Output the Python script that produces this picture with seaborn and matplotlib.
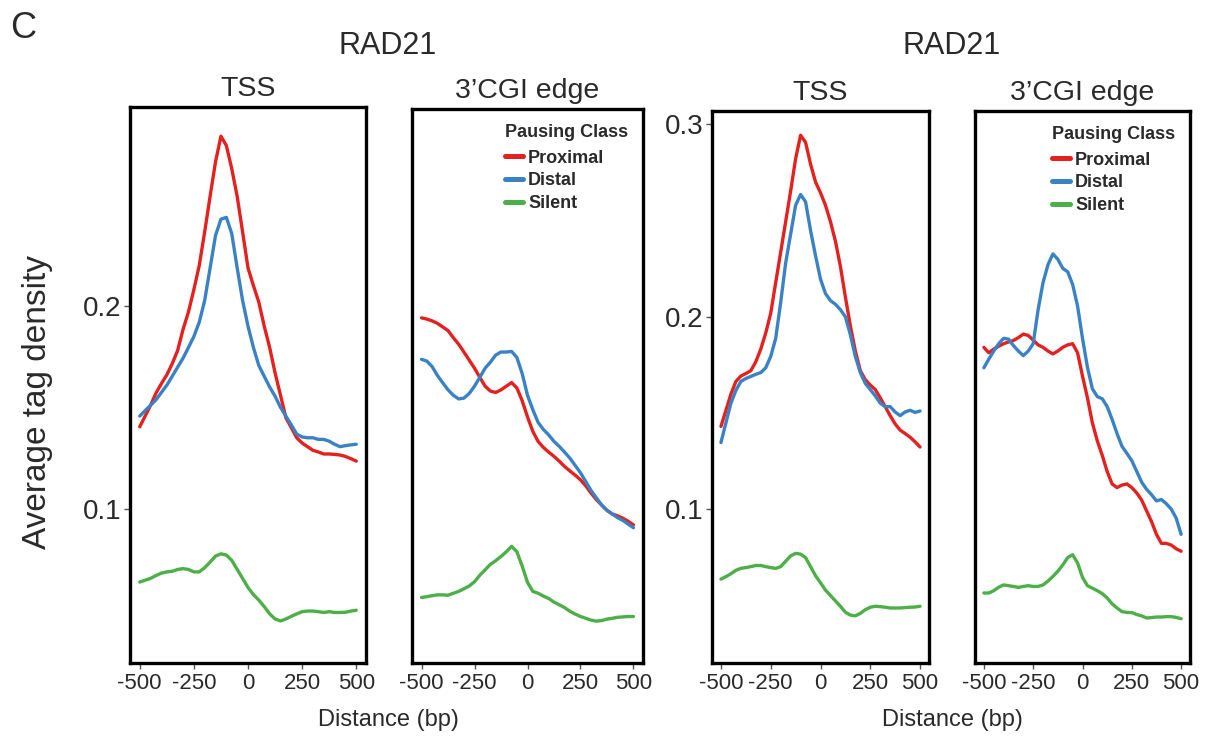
import matplotlib
matplotlib.use("Agg")
import matplotlib.pyplot as plt
from matplotlib.lines import Line2D
import numpy as np
import pandas as pd
import seaborn as sns

# ---------------- data ----------------
distance = list(range(-500, 501, 25))
classes = ["Proximal", "Distal", "Silent"]
colors = ["#E3211F", "#3A82C4", "#4CAF48"]
xtick_values = [-500, -250, 0, 250, 500]
xtick_labels = ["-500", "-250", "0", "250", "500"]
ytick_left = [0.1, 0.2]
ytick_right = [0.1, 0.2, 0.3]

# left pair, TSS
tss1_proximal = [0.1404, 0.1457, 0.151, 0.157, 0.1617, 0.166, 0.1715, 0.178, 0.1884, 0.197,
                 0.208, 0.220, 0.2365, 0.254, 0.271, 0.2836, 0.279, 0.2676, 0.254, 0.2365,
                 0.2187, 0.21, 0.2018, 0.190, 0.1795, 0.167, 0.156, 0.1448, 0.140, 0.135,
                 0.1324, 0.1306, 0.1288, 0.128, 0.127, 0.127, 0.1268, 0.1265, 0.1258, 0.1247, 0.1235]
tss1_distal = [0.1457, 0.1484, 0.151, 0.1537, 0.1573, 0.1609, 0.1653, 0.1698, 0.1742, 0.1795,
               0.1849, 0.192, 0.2027, 0.2187, 0.2347, 0.2427, 0.2436, 0.2356, 0.2187, 0.2027,
               0.190, 0.1795, 0.1706, 0.1653, 0.160, 0.1555, 0.150, 0.1457, 0.1413, 0.1368,
               0.1354, 0.135, 0.135, 0.1342, 0.1342, 0.1333, 0.1318, 0.1306, 0.1311, 0.1315, 0.1318]
tss1_silent = [0.0639, 0.0648, 0.0657, 0.0671, 0.0683, 0.0689, 0.0692, 0.0701, 0.0705, 0.0701,
               0.0689, 0.0689, 0.071, 0.0737, 0.0767, 0.0778, 0.0772, 0.0746, 0.0701, 0.0657,
               0.0612, 0.0577, 0.055, 0.0518, 0.0482, 0.0457, 0.0447, 0.0457, 0.047, 0.0482,
               0.0493, 0.0496, 0.0496, 0.0493, 0.0489, 0.0493, 0.0489, 0.0489, 0.049, 0.0496, 0.050]

# left pair, 3'CGI edge
cgi1_proximal = [0.1947, 0.1941, 0.1932, 0.192, 0.1902, 0.1884, 0.1849, 0.1817, 0.1778, 0.1738,
                 0.1698, 0.1653, 0.1609, 0.1585, 0.1578, 0.1591, 0.1609, 0.1627, 0.160, 0.1537,
                 0.1457, 0.1386, 0.1336, 0.1306, 0.1283, 0.1262, 0.1238, 0.1212, 0.119, 0.1169,
                 0.1146, 0.1116, 0.108, 0.1048, 0.1021, 0.0995, 0.0977, 0.0968, 0.0956, 0.0941, 0.0923]
cgi1_distal = [0.1742, 0.1733, 0.1706, 0.1662, 0.1626, 0.1591, 0.1564, 0.1546, 0.155, 0.1573,
               0.1609, 0.1653, 0.1698, 0.1728, 0.1763, 0.1778, 0.1778, 0.1781, 0.1751, 0.1671,
               0.1564, 0.1493, 0.143, 0.1395, 0.1368, 0.1336, 0.1311, 0.1283, 0.1253, 0.1217,
               0.1181, 0.1137, 0.1093, 0.1057, 0.1021, 0.0995, 0.0977, 0.0959, 0.0945, 0.0927, 0.0909]
cgi1_silent = [0.0564, 0.0568, 0.0573, 0.0577, 0.0577, 0.0575, 0.0585, 0.0594, 0.0607, 0.0621,
               0.0642, 0.0674, 0.0701, 0.0728, 0.0746, 0.0767, 0.079, 0.0817, 0.079, 0.0719,
               0.0639, 0.0594, 0.0585, 0.0571, 0.0559, 0.0541, 0.0528, 0.0514, 0.0496, 0.0482,
               0.047, 0.0461, 0.0452, 0.0447, 0.045, 0.0457, 0.0461, 0.0466, 0.0468, 0.047, 0.047]

# right pair, TSS
tss2_proximal = [0.143, 0.1514, 0.1598, 0.1664, 0.1692, 0.1705, 0.172, 0.1766, 0.1832, 0.1916,
                 0.2019, 0.2178, 0.2336, 0.2495, 0.2654, 0.2822, 0.2944, 0.2907, 0.2794, 0.2701,
                 0.2645, 0.258, 0.2495, 0.2393, 0.2262, 0.2103, 0.1953, 0.1822, 0.172, 0.1673,
                 0.1645, 0.1622, 0.1579, 0.1533, 0.1486, 0.1443, 0.1411, 0.1393, 0.1374, 0.135, 0.1323]
tss2_distal = [0.1346, 0.1449, 0.1551, 0.1617, 0.1664, 0.1679, 0.169, 0.1701, 0.171, 0.1735,
               0.1794, 0.1888, 0.2075, 0.228, 0.243, 0.258, 0.2636, 0.2598, 0.2449, 0.2318,
               0.2196, 0.2121, 0.2084, 0.2065, 0.2037, 0.200, 0.1907, 0.1794, 0.171, 0.1654,
               0.1622, 0.1589, 0.1551, 0.1533, 0.1533, 0.1505, 0.1486, 0.1505, 0.1514, 0.1503, 0.151]
tss2_silent = [0.0636, 0.0649, 0.0664, 0.0682, 0.0692, 0.0696, 0.0701, 0.0707, 0.0707, 0.0701,
               0.0696, 0.0692, 0.0701, 0.0729, 0.0757, 0.077, 0.0766, 0.0748, 0.0701, 0.0654,
               0.0617, 0.0579, 0.0551, 0.0523, 0.0495, 0.0464, 0.0449, 0.0445, 0.0458, 0.0477,
               0.049, 0.0495, 0.0493, 0.049, 0.0486, 0.0486, 0.0486, 0.0488, 0.049, 0.0491, 0.0495]

# right pair, 3'CGI edge
cgi2_proximal = [0.1841, 0.1813, 0.1832, 0.1847, 0.186, 0.1869, 0.1877, 0.1892, 0.191, 0.1903,
                 0.1879, 0.1854, 0.1841, 0.1822, 0.1807, 0.1822, 0.1841, 0.1854, 0.186, 0.1813,
                 0.1692, 0.1579, 0.1449, 0.1355, 0.128, 0.1196, 0.1131, 0.1112, 0.1125, 0.1131,
                 0.1112, 0.1084, 0.1047, 0.0991, 0.0935, 0.0869, 0.0822, 0.0822, 0.0813, 0.0794, 0.0781]
cgi2_distal = [0.1735, 0.178, 0.1822, 0.186, 0.1888, 0.1884, 0.185, 0.1822, 0.1798, 0.1822,
               0.186, 0.2037, 0.2178, 0.2271, 0.2327, 0.2299, 0.2252, 0.2234, 0.2168, 0.2056,
               0.1888, 0.1738, 0.1626, 0.1585, 0.1574, 0.1533, 0.1467, 0.1393, 0.1327, 0.129,
               0.1252, 0.1196, 0.114, 0.1103, 0.1075, 0.1043, 0.105, 0.1028, 0.100, 0.0953, 0.0869]
cgi2_silent = [0.0564, 0.0564, 0.0576, 0.0594, 0.0606, 0.0602, 0.0598, 0.0593, 0.0598, 0.0602,
               0.0598, 0.0598, 0.0606, 0.0626, 0.065, 0.0677, 0.071, 0.0748, 0.0763, 0.072,
               0.0645, 0.0602, 0.0589, 0.0576, 0.0561, 0.0538, 0.0508, 0.0486, 0.0467, 0.0463,
               0.0462, 0.0452, 0.0445, 0.0434, 0.0436, 0.0439, 0.0439, 0.0441, 0.0441, 0.0437, 0.043]

panel_titles = ["TSS", "3\u2019CGI edge", "TSS", "3\u2019CGI edge"]
group_title = "RAD21"
legend_title = "Pausing Class"
x_label = "Distance (bp)"
y_label = "Average tag density"
panel_letter = "C"


def long_frame(prox, dist, sil):
    frames = []
    for name, vals in zip(classes, [prox, dist, sil]):
        frames.append(pd.DataFrame({"Distance": distance, "Density": vals, "Pausing Class": name}))
    return pd.concat(frames, ignore_index=True)


panels = [long_frame(tss1_proximal, tss1_distal, tss1_silent),
          long_frame(cgi1_proximal, cgi1_distal, cgi1_silent),
          long_frame(tss2_proximal, tss2_distal, tss2_silent),
          long_frame(cgi2_proximal, cgi2_distal, cgi2_silent)]

# ---------------- style ----------------
sns.set_theme(style="ticks")
plt.rcParams["font.family"] = ["Liberation Sans", "DejaVu Sans"]
plt.rcParams["axes.unicode_minus"] = False

W, H = 1214, 738
fig = plt.figure(figsize=(W / 100, H / 100), dpi=100)

# panel boxes in pixels: left, top, right, bottom
boxes = [(130, 107, 366, 663), (412, 109, 643, 663), (712, 111, 929, 663), (975, 111, 1190, 663)]
ylims = [(0.024, 0.298), (0.024, 0.298), (0.020, 0.307), (0.020, 0.307)]
yticks = [ytick_left, None, ytick_right, None]
palette = dict(zip(classes, colors))
text_color = "#2a2a2a"

for i, (df, box) in enumerate(zip(panels, boxes)):
    l, t, r, b = box
    ax = fig.add_axes([l / W, 1 - b / H, (r - l) / W, (b - t) / H])
    sns.lineplot(data=df, x="Distance", y="Density", hue="Pausing Class", hue_order=classes,
                 palette=palette, linewidth=2.4, ax=ax, legend=False)
    ax.set_xlim(-545, 545)
    ax.set_ylim(*ylims[i])
    ax.set_xticks(xtick_values)
    ax.set_xticklabels(xtick_labels)
    ax.set_xlabel("")
    ax.set_ylabel("")
    ax.set_title(panel_titles[i], fontsize=20.5, pad=8, color=text_color)
    for s in ax.spines.values():
        s.set_visible(True)
        s.set_linewidth(2.4)
        s.set_color("black")
    ax.tick_params(axis="x", labelsize=16, length=4, width=1, color="#555555", pad=3,
                   labelcolor=text_color)
    if yticks[i] is not None:
        ax.set_yticks(yticks[i])
        ax.yaxis.set_major_formatter(matplotlib.ticker.FormatStrFormatter("%.1f"))
        ax.tick_params(axis="y", labelsize=20, length=4, width=1, color="#555555", pad=2,
                       labelcolor=text_color)
    else:
        ax.set_yticks([])
        handles = [Line2D([0], [0], color=c, lw=3.6) for c in colors]
        leg = ax.legend(handles, classes, title=legend_title, loc="upper right",
                        frameon=False, handlelength=1.05, handletextpad=0.25, labelspacing=0.32,
                        borderaxespad=0.55, borderpad=0.3,
                        prop={"weight": "bold", "size": 13},
                        title_fontproperties={"weight": "bold", "size": 13},
                        alignment="left")
        leg._legend_box.sep = 6
        for txt in leg.get_texts():
            txt.set_color(text_color)
        leg.get_title().set_color(text_color)

# group titles and axis labels
fig.text(10 / W, 1 - 28 / H, panel_letter, fontsize=26, va="center", ha="left", color=text_color)
for cx in (388, 952):
    fig.text(cx / W, 1 - 46 / H, group_title, fontsize=22, ha="center", va="center", color=text_color)
    fig.text(cx / W, 1 - 720 / H, x_label, fontsize=17, ha="center", va="center", color=text_color)
fig.text(38 / W, 1 - 402 / H, y_label, fontsize=24, rotation=90, ha="center", va="center",
         color=text_color)

fig.savefig("out.png", dpi=100)
